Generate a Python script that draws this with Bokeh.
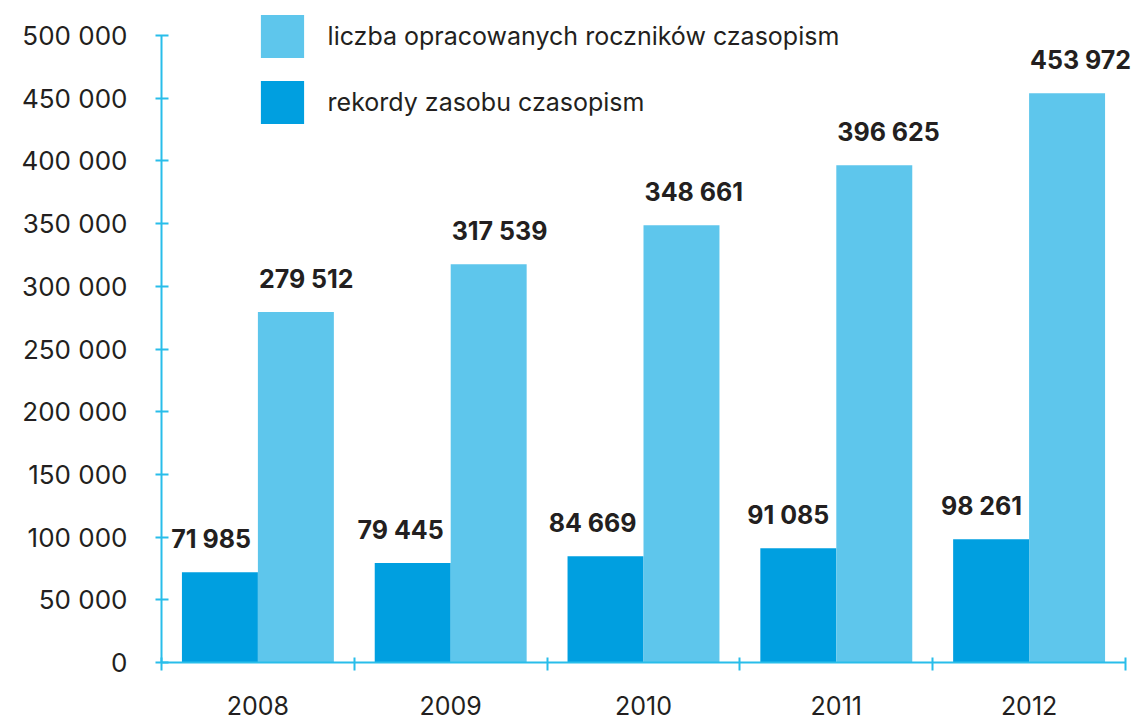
import numpy as np
from bokeh.plotting import figure
from bokeh.models import (ColumnDataSource, Range1d, FixedTicker, LabelSet,
                          Legend, LegendItem)
from bokeh.core.properties import value
from bokeh.embed import file_html
from bokeh.resources import INLINE

# ---- data ----
years = ["2008", "2009", "2010", "2011", "2012"]
rekordy = [71985, 79445, 84669, 91085, 98261]          # rekordy zasobu czasopism
liczba = [279512, 317539, 348661, 396625, 453972]      # liczba opracowanych roczników czasopism
y_ticks = [0, 50000, 100000, 150000, 200000, 250000, 300000, 350000, 400000, 450000, 500000]
y_tick_labels = ["0", "50 000", "100 000", "150 000", "200 000", "250 000",
                 "300 000", "350 000", "400 000", "450 000", "500 000"]

DARK = "#009fe0"
LIGHT = "#5ec6ec"
AXIS = "#29bdea"
TXT = "#231f20"
FONT = "Inter"

def fmt(v):
    return f"{v:,}".replace(",", " ")

n = len(years)
centers = np.arange(n) + 0.5
bw = 0.394

# layout geometry (pixels)
W, H = 1142, 722
LEFT, BOTTOM = 161, 60
px_per_cat = 192.8
y_top_px = 35           # where 500 000 sits
frame_w = W - LEFT
frame_h = H - BOTTOM
x_end = frame_w / px_per_cat
y_end = 500000 * frame_h / (frame_h - y_top_px)

src = ColumnDataSource(dict(
    center=centers,
    x_dark=centers - bw / 2,
    x_light=centers + bw / 2,
    dark=rekordy,
    light=liczba,
    dark_lbl=[fmt(v) for v in rekordy],
    light_lbl=[fmt(v) for v in liczba],
))

p = figure(width=W, height=H, output_backend="svg", toolbar_location=None,
           x_range=Range1d(0, x_end), y_range=Range1d(0, y_end),
           min_border_left=LEFT, min_border_right=0, min_border_top=0,
           min_border_bottom=BOTTOM)
p.outline_line_color = None
p.xgrid.visible = False
p.ygrid.visible = False
p.background_fill_color = "white"

r_dark = p.vbar(x="x_dark", top="dark", bottom=0, width=bw, source=src,
                fill_color=DARK, line_color=None)
r_light = p.vbar(x="x_light", top="light", bottom=0, width=bw, source=src,
                 fill_color=LIGHT, line_color=None)

# y axis
ya = p.yaxis[0]
ya.bounds = (0, 500000)
ya.ticker = FixedTicker(ticks=y_ticks)
ya.major_label_overrides = {t: l for t, l in zip(y_ticks, y_tick_labels)}
ya.axis_line_color = AXIS
ya.axis_line_width = 2
ya.major_tick_line_color = AXIS
ya.major_tick_line_width = 2
ya.major_tick_in = 7
ya.major_tick_out = 6
ya.minor_tick_line_color = None
ya.major_label_standoff = 28
ya.major_label_text_font = FONT
ya.major_label_text_font_size = "26px"
ya.major_label_text_color = TXT

# x axis: year labels at centres, separator ticks between years
xa = p.xaxis[0]
xa.bounds = (0, n)
xa.ticker = FixedTicker(ticks=list(centers), minor_ticks=list(np.arange(n + 1)))
xa.major_label_overrides = {float(c): y for c, y in zip(centers, years)}
xa.axis_line_color = AXIS
xa.axis_line_width = 2
xa.major_tick_line_color = None
xa.major_tick_in = 0
xa.major_tick_out = 0
xa.minor_tick_line_color = AXIS
xa.minor_tick_line_width = 2
xa.minor_tick_in = 5
xa.minor_tick_out = 8
xa.major_label_standoff = 25
xa.major_label_text_font = FONT
xa.major_label_text_font_size = "25px"
xa.major_label_text_color = TXT

# value labels
p.add_layout(LabelSet(x="center", y="dark", text="dark_lbl", source=src,
                      x_offset=-7, y_offset=24, text_align="right",
                      text_baseline="alphabetic", text_font=value(FONT),
                      text_font_size="25px", text_font_style="bold", text_color=TXT))
p.add_layout(LabelSet(x="center", y="light", text="light_lbl", source=src,
                      x_offset=1, y_offset=24, text_align="left",
                      text_baseline="alphabetic", text_font=value(FONT),
                      text_font_size="25px", text_font_style="bold", text_color=TXT))

legend = Legend(items=[LegendItem(label="liczba opracowanych roczników czasopism", renderers=[r_light]),
                       LegendItem(label="rekordy zasobu czasopism", renderers=[r_dark])],
                location=(93.6, 533.4), glyph_width=54, glyph_height=54, spacing=12,
                padding=0, margin=0, border_line_color=None, background_fill_alpha=0,
                label_standoff=19, label_text_font=FONT, label_text_font_size="25px",
                label_text_color=TXT)
p.add_layout(legend)

open("out.html", "w").write(file_html(p, INLINE))
